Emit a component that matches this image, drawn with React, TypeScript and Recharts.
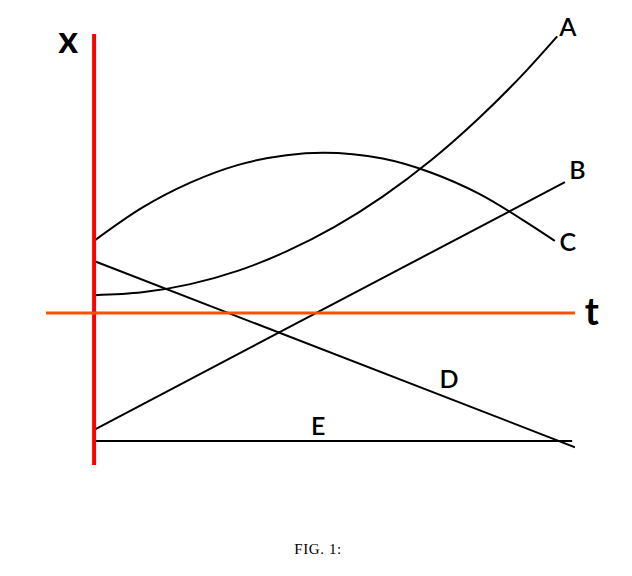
import React from 'react';
import { LineChart, Line, XAxis, YAxis, ReferenceLine, ReferenceDot } from 'recharts';

// curve samples (t, x)
const curveA = [
  { t: 0, x: 0.37 }, { t: 1, x: 0.43 }, { t: 2, x: 0.6 }, { t: 3, x: 0.88 },
  { t: 4, x: 1.28 }, { t: 5, x: 1.79 }, { t: 6, x: 2.42 }, { t: 7, x: 3.17 },
  { t: 8, x: 4.05 }, { t: 9, x: 5.05 }, { t: 9.63, x: 5.75 },
];
const curveB = [{ t: 0, x: -2.43 }, { t: 9.79, x: 2.72 }];
const curveC = [
  { t: 0, x: 1.5 }, { t: 1, x: 2.19 }, { t: 2, x: 2.71 }, { t: 3, x: 3.08 },
  { t: 4, x: 3.28 }, { t: 4.76, x: 3.33 }, { t: 6, x: 3.21 }, { t: 7, x: 2.92 },
  { t: 8, x: 2.48 }, { t: 9, x: 1.88 }, { t: 9.58, x: 1.5 },
];
const curveD = [{ t: 0, x: 1.08 }, { t: 10, x: -2.79 }];
const curveE = [{ t: 0, x: -2.66 }, { t: 9.94, x: -2.66 }];

const curveLabels = [
  { name: 'A', t: 9.85, x: 5.95 },
  { name: 'B', t: 10.05, x: 2.96 },
  { name: 'C', t: 9.85, x: 1.48 },
  { name: 'D', t: 7.38, x: -1.37 },
  { name: 'E', t: 4.66, x: -2.35 },
];
const axisLabels = [
  { name: 'x', t: -0.54, x: 5.68 },
  { name: 't', t: 10.35, x: 0.04 },
];

const series = [curveA, curveB, curveC, curveD, curveE];

const W = 616;
const H = 500;

export default function App() {
  return (
    <div style={{ position: 'relative', width: W, height: 560 }}>
      <LineChart width={W} height={H} margin={{ top: 26, left: 38, right: 49, bottom: 43 }}>
        <XAxis type="number" dataKey="t" domain={[-1, 10]} hide allowDataOverflow />
        <YAxis type="number" dataKey="x" domain={[-3.16, 5.8]} hide allowDataOverflow />
        {series.map((d, i) => (
          <Line
            key={i}
            data={d}
            dataKey="x"
            type="monotone"
            stroke="#000"
            strokeWidth={2}
            dot={false}
            isAnimationActive={false}
          />
        ))}
        <ReferenceLine x={0} stroke="#000" strokeWidth={2} />
        <ReferenceLine x={0} stroke="#ff0000" strokeWidth={4} />
        <ReferenceLine y={0} stroke="#ff5000" strokeWidth={3} />
        {curveLabels.map((l) => (
          <ReferenceDot
            key={l.name}
            x={l.t}
            y={l.x}
            r={0}
            ifOverflow="visible"
            label={{ value: l.name, position: 'center', fill: '#000', fontSize: 25, fontWeight: 600, fontFamily: 'Lato, sans-serif' }}
          />
        ))}
        {axisLabels.map((l) => (
          <ReferenceDot
            key={l.name}
            x={l.t}
            y={l.x}
            r={0}
            ifOverflow="visible"
            label={{ value: l.name, position: 'center', fill: '#000', fontSize: 38, fontWeight: 'bold', fontFamily: 'Lato, sans-serif' }}
          />
        ))}
      </LineChart>
      <div
        style={{
          position: 'absolute',
          left: 2,
          width: W,
          top: 533,
          textAlign: 'center',
          fontSize: 15,
          letterSpacing: 0.6,
          fontFamily: '"Liberation Serif", serif',
        }}
      >
        FIG. 1:
      </div>
    </div>
  );
}
